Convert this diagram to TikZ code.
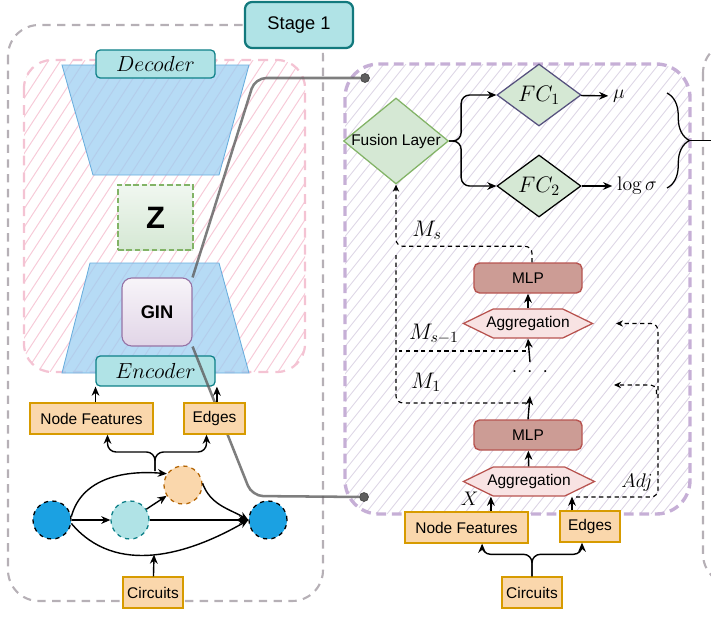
\RequirePackage{fix-cm}
\documentclass[tikz,border=0pt]{standalone}
\usepackage{fontspec}
\setsansfont{Liberation Sans}
\usetikzlibrary{arrows.meta,positioning,shapes.geometric,shapes.symbols,decorations.pathreplacing}
\definecolor{stageln}{HTML}{12797D}
\definecolor{stagefl}{HTML}{B0E3E6}
\definecolor{tealln}{HTML}{0E8088}
\definecolor{trapfl}{HTML}{9DCFF2}
\definecolor{trapln}{HTML}{6AAEDD}
\definecolor{zln}{HTML}{82B366}
\definecolor{zfl}{HTML}{D5E8D4}
\definecolor{ginln}{HTML}{9673A6}
\definecolor{ginfl}{HTML}{E1D5E7}
\definecolor{orfl}{HTML}{FAD7AC}
\definecolor{orln}{HTML}{D79B00}
\definecolor{nodeblue}{HTML}{1BA1E2}
\definecolor{orcirc}{HTML}{B46504}
\definecolor{mlpfl}{HTML}{CC9C95}
\definecolor{mlpln}{HTML}{B85450}
\definecolor{aggfl}{HTML}{F8E3E3}
\definecolor{fcln}{HTML}{56517E}
\definecolor{pinkln}{HTML}{F4C3D3}
\definecolor{pinkht}{HTML}{F7CAD8}
\definecolor{purpln}{HTML}{C6AFD6}
\definecolor{purpht}{HTML}{DCD4E4}
\definecolor{grayln}{HTML}{B6B0B6}
\definecolor{wirec}{HTML}{5E5E5E}
\tikzset{
  txt/.style={font=\sffamily\fontsize{11}{13}\selectfont},
  mlab/.style={font=\fontsize{14}{16}\selectfont},
  mbig/.style={font=\fontsize{16}{18}\selectfont},
  frame/.style={draw=grayln,line width=1.5pt,dash pattern=on 6pt off 4.5pt,rounded corners=22pt},
  stage/.style={draw=stageln,fill=stagefl,line width=1.6pt,rounded corners=5pt,minimum width=2.7cm,minimum height=1.15cm,font=\sffamily\fontsize{13}{15}\selectfont},
  tag/.style={draw=tealln,fill=stagefl,line width=0.9pt,rounded corners=3pt,inner sep=0pt,minimum width=2.975cm,font=\fontsize{15.5}{17}\selectfont},
  trap/.style={fill=trapfl,fill opacity=0.75,draw=trapln,line width=0.6pt},
  zbox/.style={draw=zln,line width=1.2pt,dash pattern=on 4pt off 2pt,top color=zfl!35!white,bottom color=zfl,minimum width=1.875cm,minimum height=1.625cm,font=\sffamily\bfseries\fontsize{22}{24}\selectfont},
  ginbox/.style={draw=ginln,line width=0.8pt,rounded corners=7pt,top color=ginfl!25!white,bottom color=ginfl,minimum width=1.75cm,minimum height=1.7cm,font=\sffamily\bfseries\fontsize{13}{15}\selectfont},
  inbox/.style={txt,draw=orln,fill=orfl,line width=1pt,inner sep=0pt,minimum height=0.775cm},
  gnode/.style={circle,minimum size=0.95cm,inner sep=0pt,dashed,line width=0.9pt},
  mlp/.style={txt,draw=mlpln,fill=mlpfl,line width=1pt,rounded corners=4pt,minimum width=2.7cm,minimum height=0.75cm},
  agg/.style={signal,signal to=west and east,signal pointer angle=52,draw=mlpln,fill=aggfl,line width=0.9pt,inner sep=0pt,minimum height=0.725cm,label={[txt]center:Aggregation}},
  fc/.style={diamond,fill=zfl,line width=0.9pt,inner sep=0pt,minimum width=2.1cm,minimum height=1.55cm},
  arr/.style={-{Stealth[length=6.5pt,width=5.5pt]},line width=1pt},
  darr/.style={-{Stealth[length=5pt,width=4.5pt]},line width=0.8pt,dash pattern=on 3pt off 2.5pt},
  dline/.style={line width=0.8pt,dash pattern=on 3pt off 2.5pt},
  wire/.style={draw=wirec,line width=1.8pt,opacity=0.8,rounded corners=8pt},
  port/.style={circle,fill=wirec,draw=black!70,line width=0.6pt,minimum size=0.22cm,inner sep=0pt}}
\begin{document}
\begin{tikzpicture}[x=0.025cm,y=-0.025cm]
\useasboundingbox (0,0) rectangle (711,619);
% stage frames
\begin{scope}
\clip (0,0) rectangle (711,619);
\draw[frame] (703,42) rectangle (950,585);
\end{scope}
\draw[frame] (8,25) rectangle (323,601);
% hatched areas
\begin{scope}
\clip[rounded corners=20pt] (24,60) rectangle (305,372);
\foreach \x in {-190,-178,...,305} \draw[pinkht,line width=0.7pt] (\x,372) -- ++(203,-312);
\end{scope}
\draw[pinkln,line width=1.6pt,dash pattern=on 7pt off 5pt,rounded corners=20pt] (24,60) rectangle (305,372);
\begin{scope}
\clip[rounded corners=24pt] (345,64) rectangle (690,514);
\foreach \x in {-20,-9,...,690} \draw[purpht,line width=0.6pt] (\x,514) -- ++(360,-450);
\end{scope}
\draw[purpln,line width=2.4pt,dash pattern=on 7pt off 4pt,rounded corners=24pt] (345,64) rectangle (690,514);
% encoder / decoder
\filldraw[trap] (62,65) -- (249,65) -- (219,175) -- (93,175) -- cycle;
\filldraw[trap] (90,263) -- (219,263) -- (249,373) -- (62,373) -- cycle;
\node[tag,minimum height=0.7cm] (dec) at (155.5,64) {$Decoder$};
\node[zbox] (z) at (155.5,217.5) {Z};
\node[ginbox] (gin) at (157,312) {GIN};
\node[tag,minimum height=0.75cm] (enc) at (155.5,371) {$Encoder$};
\node[stage] (stage) at (299,25) {Stage 1};
\node[inbox,minimum width=3.075cm] (nfL) at (91.5,418.5) {Node Features};
\node[inbox,minimum width=1.5cm] (cirL) at (153,592.5) {Circuits};
% circuit graph
\node[gnode,draw=black,fill=nodeblue] (gL) at (52,520) {};
\node[gnode,draw=tealln,fill=stagefl] (gT) at (130,520) {};
\node[gnode,draw=orcirc,fill=orfl] (gO) at (183,485) {};
\node[gnode,draw=black,fill=nodeblue] (gR) at (268,520) {};
\draw[arr] (gL) -- (gT);
\draw[arr] (gT) -- (gO);
\draw[arr] (gT) -- (gR);
\draw[arr] (gL.10) to[out=75,in=175] (gO.145);
\draw[arr] (gO.5) to[out=-70,in=150] (gR.west);
\draw[arr] (gL.-10) to[out=-50,in=-150] coordinate[pos=0.5] (cb) (gR.west);
\draw[arr] (cirL) -- (cb);
\coordinate (fork) at (155,471);
\coordinate (forkTop) at (155,452);
% links to the detail view
\node[port] (dotT) at (365,78) {};
\node[port] (dotB) at (364,497) {};
\draw[wire] (gin.north east) -- (255,78) -- (dotT);
\draw[wire] (gin.south east) -- (252,496) -- (dotB);
\node[inbox,minimum width=1.525cm] (edL) at (214.5,418.5) {Edges};
\draw[arr,rounded corners=6pt] (fork) -- (forkTop) -| ([xshift=0.4cm]nfL.south);
\draw[arr,rounded corners=6pt] (fork) -- (forkTop) -| ([xshift=-0.2cm]edL.south);
\draw[arr] ([xshift=0.1cm]nfL.north) -- ([xshift=0.1cm]nfL.north |- enc.south);
\draw[arr] ([xshift=0.06cm]edL.north) -- ([xshift=0.06cm]edL.north |- enc.south);
% detail view
\node[fc,draw=zln,minimum width=2.625cm,minimum height=2.15cm,label={[txt]center:Fusion Layer}] (fus) at (396,141) {};
\node[fc,draw=fcln,label={[mbig]center:$FC_1$}] (fc1) at (539,95) {};
\node[fc,draw=black,label={[mbig]center:$FC_2$}] (fc2) at (539,186) {};
\node[mlab] (mu) at (619,96) {$\mu$};
\node[mlab] (lsig) at (637,186) {$\log\sigma$};
\draw[arr,rounded corners=6pt] (fus.east) -- ++(12,0) |- (fc1.west);
\draw[arr,rounded corners=6pt] (fus.east) -- ++(12,0) |- (fc2.west);
\draw[arr] (fc1) -- (mu);
\draw[arr] (fc2) -- (lsig);
\draw[decorate,decoration={brace,amplitude=16pt},line width=0.9pt] (667,93) -- (667,188);
\coordinate (braceTip) at (689,140.5);
\coordinate (toStage) at (711,140.5);
\draw[line width=0.9pt] (braceTip) -- (toStage);
\node[mlp] (mlpT) at (528,278) {MLP};
\node[agg,minimum width=3.225cm] (aggT) at (528,323.5) {};
\node[mlab] (dots) at (530,372) {$\cdot\hspace{4pt}\cdot\hspace{4pt}\cdot$};
\node[mlp] (mlpB) at (528,435) {MLP};
\node[agg,minimum width=3.275cm] (aggB) at (529,481.5) {};
\node[inbox,minimum width=3.075cm] (nfR) at (466.5,527.5) {Node Features};
\node[inbox,minimum width=1.5cm] (edR) at (590,526.5) {Edges};
\node[inbox,minimum width=1.5cm] (cirR) at (532,592.5) {Circuits};
\draw[arr] (aggT) -- (mlpT);
\draw[arr] ([yshift=7pt]dots.center) -- (aggT.south);
\draw[arr] (mlpB.north) -- ([yshift=-17pt]dots.center);
\draw[arr] (aggB) -- (mlpB);
\draw[arr] ([xshift=0.61cm]nfR.north) -- ([xshift=0.61cm]nfR.north |- aggB.south) node[mlab,pos=0.85,left=5pt] {$X$};
\draw[arr] ([xshift=-0.45cm]edR.north) -- ([xshift=-0.45cm]edR.north |- aggB.south);
\draw[arr,rounded corners=6pt] (cirR.north) -- ++(0,-22) -| ([xshift=0.39cm]nfR.south);
\draw[arr,rounded corners=6pt] (cirR.north) -- ++(0,-22) -| ([xshift=-0.2cm]edR.south);
\coordinate (adjS) at (576,497);
\coordinate (adjT) at (614,385);
\draw[darr,rounded corners=5pt] (adjS) -| ([xshift=1.6cm]aggT.east) -- ([xshift=0.55cm]aggT.east);
\draw[darr,rounded corners=4pt] (656.5,394) |- (adjT);
\node[mlab] (adj) at (637,483) {$Adj$};
\coordinate (mtop) at (396,252);
\coordinate (ms1) at (526,351);
\coordinate (m1) at (526,403);
\draw[darr,rounded corners=5pt] ([xshift=0.1cm]mlpT.north) -- ++(0,-16) -| (fus.south);
\draw[dline,rounded corners=5pt] (m1) -| (mtop);
\draw[dline] (ms1) -- ([xshift=2pt]ms1 -| mtop);
\node[mbig] (lms) at (427,230) {$M_s$};
\node[mbig] (lms1) at (434,334) {$M_{s-1}$};
\node[mbig] (lm1) at (426,382) {$M_1$};
\end{tikzpicture}
\end{document}
